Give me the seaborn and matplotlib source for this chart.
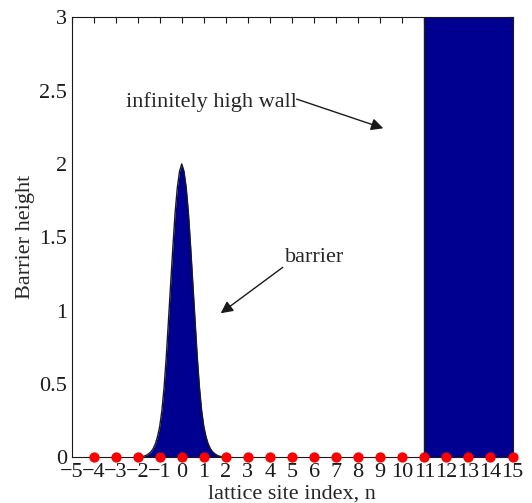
import numpy as np
import matplotlib
matplotlib.use('Agg')
import matplotlib.pyplot as plt
import seaborn as sns

# lattice sites (red dots on the axis)
sites = np.arange(-4, 16)
site_level = np.zeros(len(sites))

barrier_x = np.linspace(-2, 2, 41)
barrier_h = [0.0, 0.002, 0.004, 0.008, 0.014, 0.024, 0.037, 0.058, 0.09, 0.14,
             0.21, 0.32, 0.48, 0.69, 0.94, 1.19, 1.44, 1.67, 1.84, 1.95,
             2.0,
             1.95, 1.84, 1.67, 1.44, 1.19, 0.94, 0.69, 0.48, 0.32, 0.21,
             0.14, 0.09, 0.058, 0.037, 0.024, 0.014, 0.008, 0.004, 0.002, 0.0]

# infinitely high wall
wall_x = [11, 15]
wall_h = [3, 3]

yticks = [0, 0.5, 1, 1.5, 2, 2.5, 3]
ytick_labels = ['0', '0.5', '1', '1.5', '2', '2.5', '3']
xticks = list(range(-5, 16))

navy = '#000090'

sns.set_theme(style='white')
plt.rcParams['font.family'] = ['Liberation Serif', 'DejaVu Serif']
plt.rcParams['font.size'] = 16

fig = plt.figure(figsize=(5.32, 5.03), dpi=100)
ax = fig.add_axes([0.1344, 0.0909, 0.829, 0.8748])

# barrier
ax.fill_between(barrier_x, barrier_h, color=navy, lw=0, zorder=1)
sns.lineplot(x=barrier_x, y=barrier_h, color='k', lw=1, ax=ax,
             estimator=None, sort=False, zorder=2)

# wall
ax.fill_between(wall_x, wall_h, color=navy, lw=0, zorder=1)
ax.vlines(wall_x[0], 0, wall_h[0], color='k', lw=1, zorder=2)

# lattice sites
sns.scatterplot(x=sites, y=site_level, color='red', s=55, linewidth=0,
                ax=ax, clip_on=False, zorder=5)

ax.set_xlim(-5, 15)
ax.set_ylim(0, 3)
ax.set_xticks(xticks)
ax.set_xticklabels([str(t).replace('-', '\u2212') for t in xticks])
ax.set_yticks(yticks)
ax.set_yticklabels(ytick_labels)
ax.tick_params(direction='in', top=True, right=True, length=4, width=0.8,
               labelsize=16, colors='k')
ax.tick_params(axis='x', pad=4)
ax.tick_params(axis='y', pad=3)
for sp in ax.spines.values():
    sp.set_color('k')
    sp.set_linewidth(0.8)

ax.set_xlabel('lattice site index, n', fontsize=16, labelpad=2)
ax.set_ylabel('Barrier height', fontsize=16, labelpad=3)

arrow = dict(arrowstyle='-|>', color='k', lw=1, mutation_scale=18,
             shrinkA=0, shrinkB=0)
ax.text(5.21, 2.39, 'infinitely high wall', ha='right', va='baseline', fontsize=16)
ax.annotate('', xy=(9.14, 2.243), xytext=(5.21, 2.442), arrowprops=arrow)
ax.text(4.68, 1.333, 'barrier', ha='left', va='baseline', fontsize=16)
ax.annotate('', xy=(1.766, 0.982), xytext=(4.58, 1.295), arrowprops=arrow)

fig.savefig('out.png', dpi=100)
